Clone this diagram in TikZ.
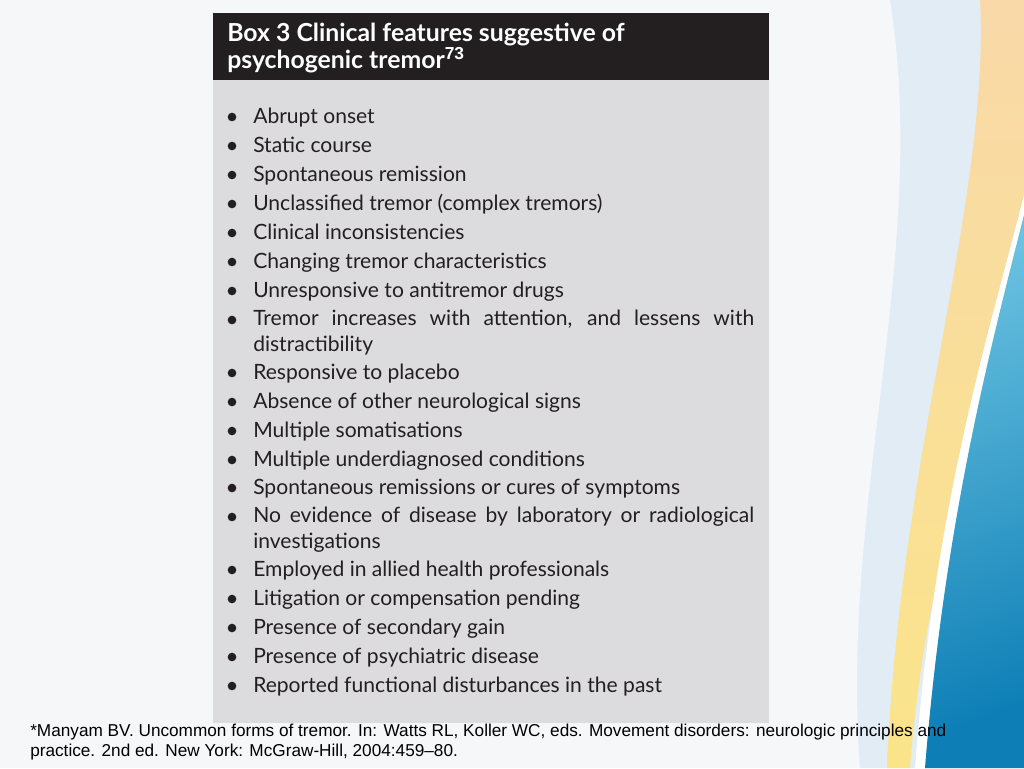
\documentclass[tikz,border=0pt]{standalone}
\usepackage{fontspec}
\setmainfont{Liberation Sans}
\newfontfamily\boxfont{Lato}
\definecolor{hdr}{HTML}{231F20}
\definecolor{bodyg}{HTML}{DCDCDE}
\definecolor{bgw}{HTML}{F6F7F9}
\definecolor{lblue}{HTML}{DCEAF5}
\definecolor{yel1}{HTML}{F9D9A8}
\definecolor{yel2}{HTML}{FAE48A}
\definecolor{blu1}{HTML}{2AA7D3}
\definecolor{blu2}{HTML}{0E7FB6}
\begin{document}
\begin{tikzpicture}[x=0.75pt,y=-0.75pt,
  item/.style={anchor=base west,inner sep=0pt,font=\boxfont\fontsize{15.8}{19}\selectfont,text=hdr},
  ttl/.style={anchor=base west,inner sep=0pt,text=white,font=\boxfont\bfseries\fontsize{18.6}{21}\selectfont},
  bul/.style={circle,fill=hdr,inner sep=0pt,minimum size=6.5pt}]
\useasboundingbox (0,0) rectangle (1024,768);
\fill[bgw] (0,0) rectangle (1024,768);
% right decoration
\fill[lblue,opacity=0.8] (890,0) .. controls (930,250) and (840,500) .. (860,768) -- (1024,768) -- (1024,0) -- cycle;
\shade[top color=yel1,bottom color=yel2] (980,0) .. controls (990,200) and (900,450) .. (887,768) -- (910,768) .. controls (930,500) and (1024,330) .. (1024,200) -- (1024,0) -- cycle;
\fill[white] (1024,195) .. controls (990,330) and (935,500) .. (915,768) -- (925,768) .. controls (945,520) and (990,350) .. (1024,215) -- cycle;
\shade[top color=blu1!70!white,bottom color=blu2,shading angle=20] (1024,215) .. controls (990,350) and (945,520) .. (925,768) -- (1024,768) -- cycle;
% box
\fill[bodyg] (213,80) rectangle (769,723);
\fill[hdr] (213,13) rectangle (769,80);
\node[ttl] (title) at (227,41) {Box 3 Clinical features suggestive of};
\node[ttl] (title2) at (227,68) {psychogenic tremor$^{\mathbf{73}}$};
\foreach \t/\y [count=\i] in {
 Abrupt onset/123,
 Static course/152,
 Spontaneous remission/181,
 Unclassified tremor (complex tremors)/210,
 Clinical inconsistencies/239,
 Changing tremor characteristics/268,
 Unresponsive to antitremor drugs/297,
 Responsive to placebo/379,
 Absence of other neurological signs/408,
 Multiple somatisations/437,
 Multiple underdiagnosed conditions/466,
 Spontaneous remissions or cures of symptoms/494,
 Employed in allied health professionals/576,
 Litigation or compensation pending/605,
 Presence of secondary gain/634,
 Presence of psychiatric disease/663,
 Reported functional disturbances in the past/692}
{\node[bul] (b\i) at (232,\y-6) {}; \node[item] (t\i) at (253,\y) {\t};}
\node[bul] (bA) at (232,320) {};
\node[item,anchor=north west,text width=501*0.75pt,align=justify] (tA) at (253,310) {Tremor increases with attention, and lessens with\linebreak distractibility};
\node[bul] (bB) at (232,517) {};
\node[item,anchor=north west,text width=501*0.75pt,align=justify] (tB) at (253,507) {No evidence of disease by laboratory or radiological\linebreak investigations};
\node[anchor=north west,inner sep=0pt,font=\fontsize{12.9}{15}\selectfont,align=left] (foot) at (30,724) {*Manyam BV. Uncommon forms of tremor. In: Watts RL, Koller WC, eds. Movement disorders: neurologic principles and\\practice. 2nd ed. New York: McGraw-Hill, 2004:459--80.};
\end{tikzpicture}
\end{document}
